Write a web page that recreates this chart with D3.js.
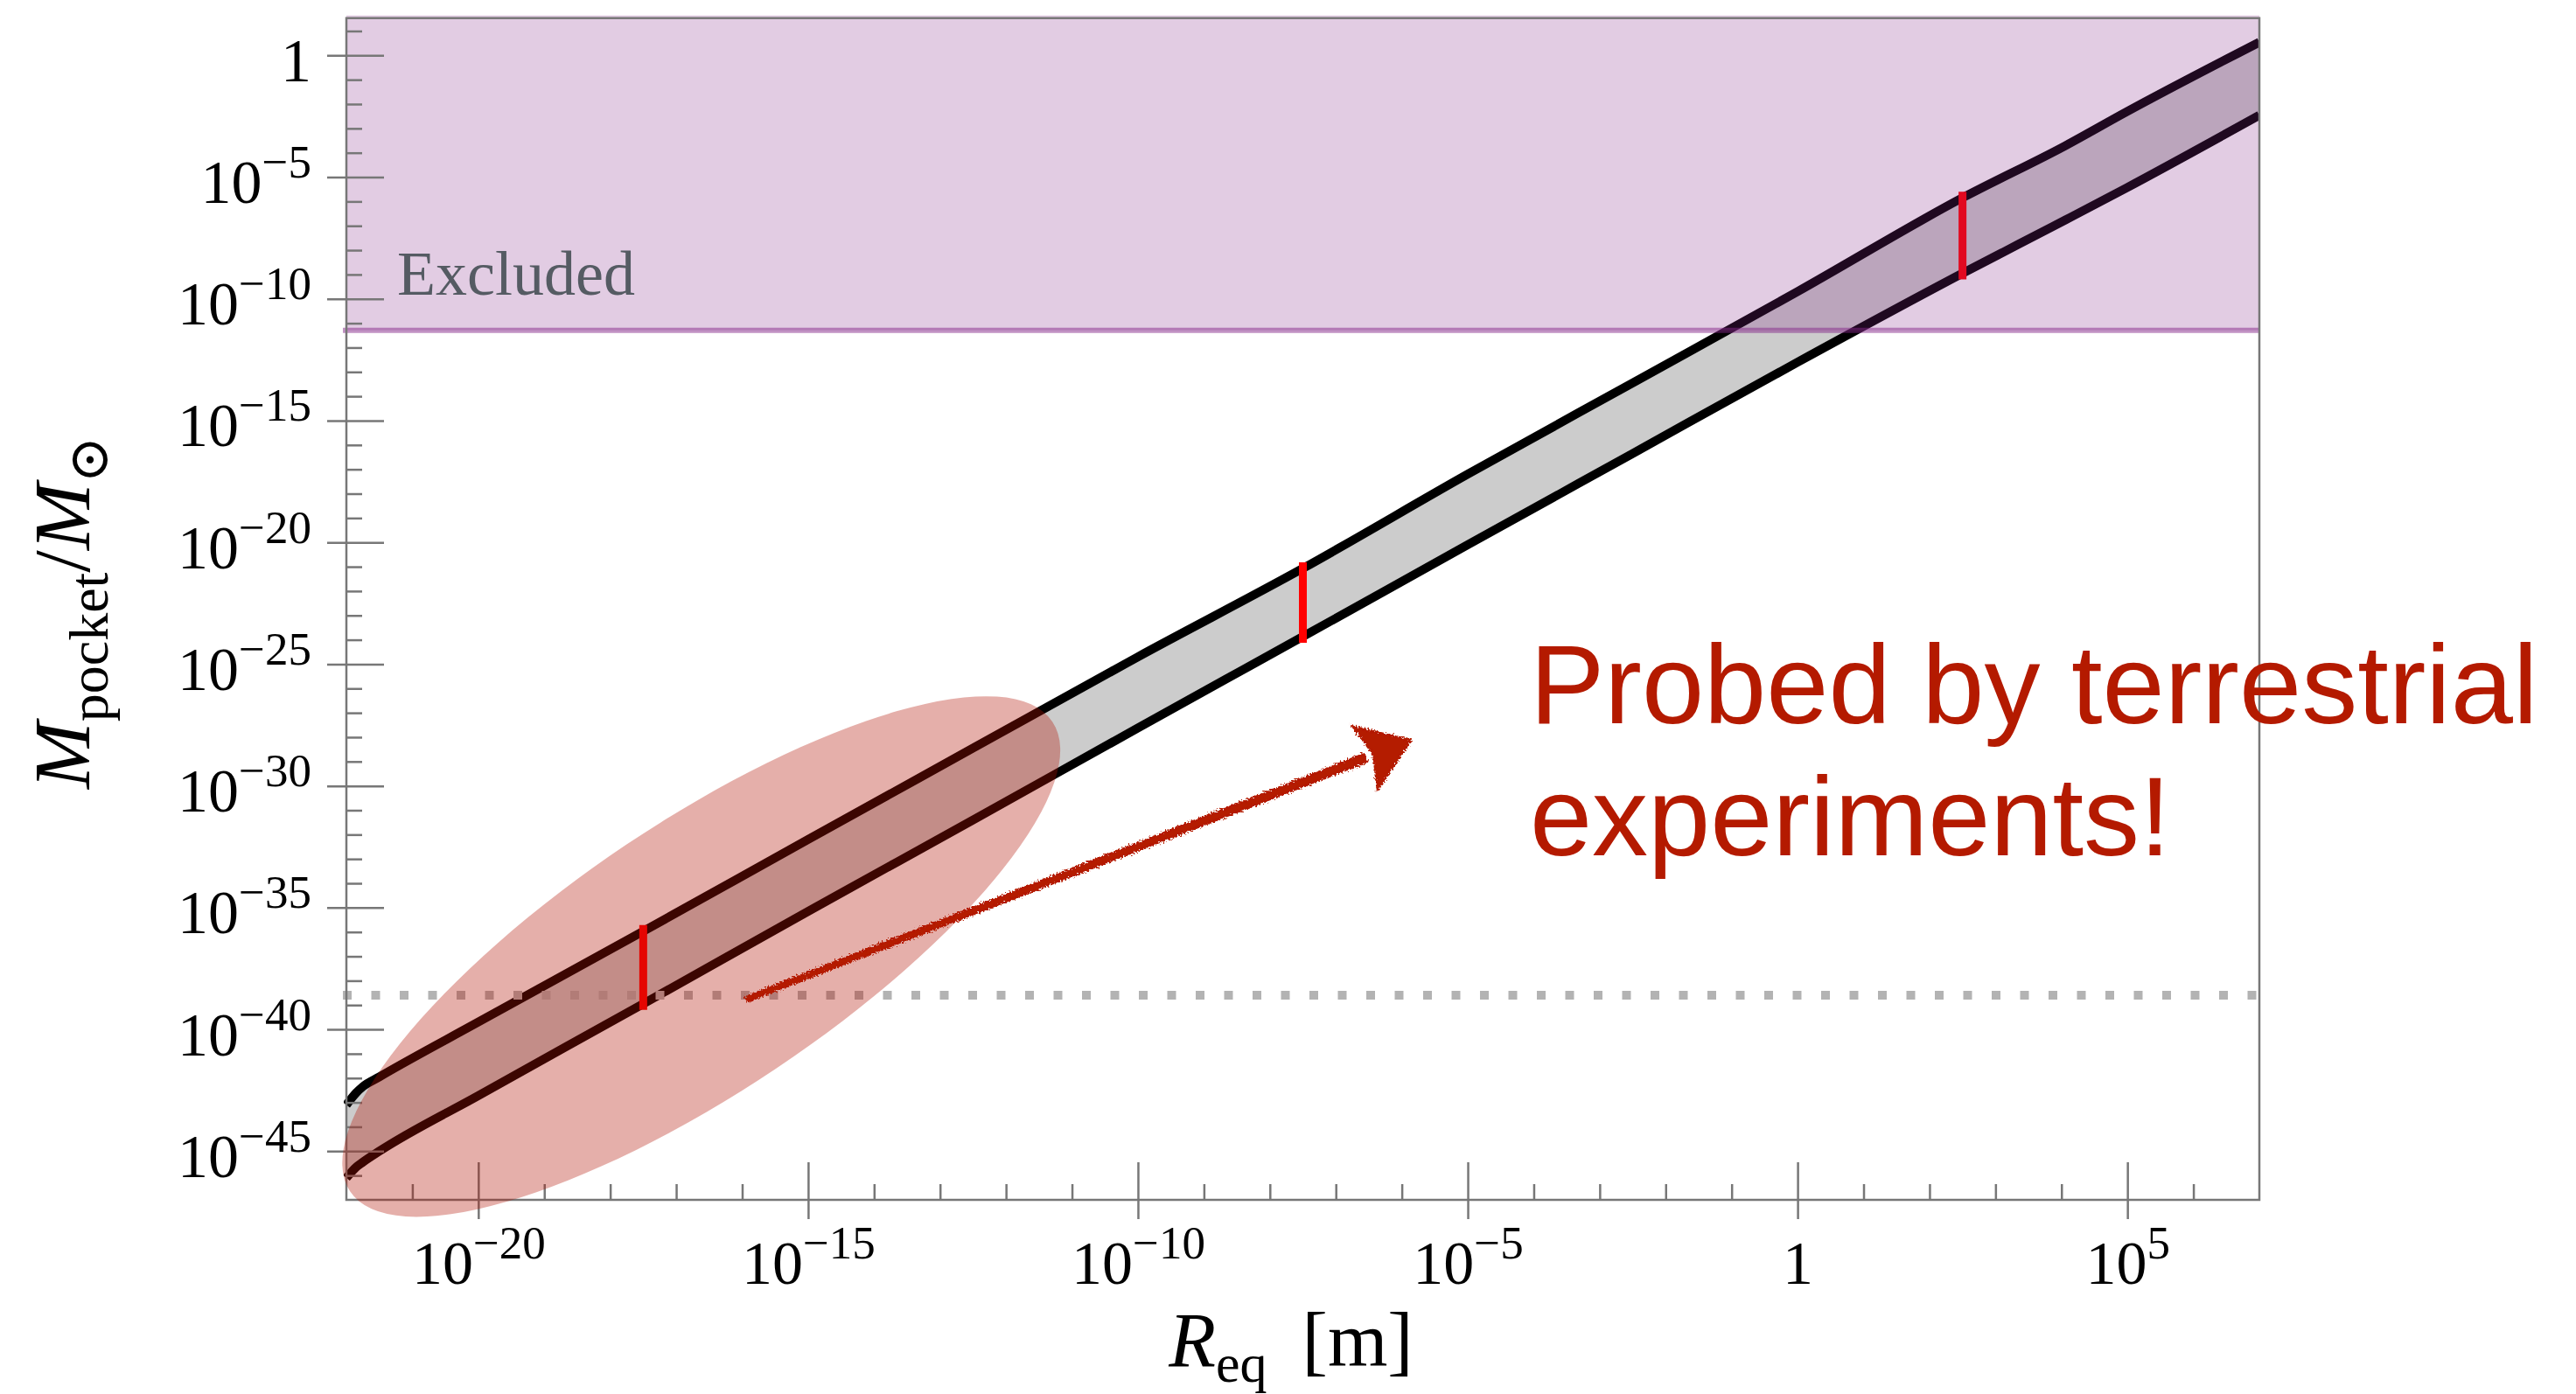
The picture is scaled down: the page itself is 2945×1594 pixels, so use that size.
<!DOCTYPE html>
<html>
<head>
<meta charset="utf-8">
<script src="https://cdn.jsdelivr.net/npm/d3@7"></script>
<style>
body { margin: 0; background: #fff; }
</style>
</head>
<body>
<div id="chart"></div>
<script>
// all values are log10 exponents
var bandR = [-22, -21.85, -21.75, -21.5, -20, -17.5, -15, -12.5, -10, -7.5, -5, -2.5, 0, 2.5, 4.06, 4.98, 7];
var bandUpper = [-43.1, -42.6, -42.35, -41.95, -39.7, -35.97, -32.2, -28.45, -24.7, -21.07, -17.2, -13.45, -9.7, -5.85, -3.71, -2.33, 0.54];
var bandLower = [-46.1, -45.65, -45.45, -45.0, -42.72, -38.95, -35.15, -31.4, -27.62, -23.87, -20.1, -16.35, -12.6, -8.95, -6.76, -5.45, -2.46];

var markR = [-17.5, -7.5, 2.5];
var markTop = [-35.97, -21.07, -5.85];
var markBottom = [-38.95, -23.87, -8.95];

var excludedAbove = -11.29;
var dottedLevel = -38.6;

var xDomain = [-22, 7];
var yDomain = [-47, 1.53];
var xMajor = [-20, -15, -10, -5, 0, 5];
var yMajor = [0, -5, -10, -15, -20, -25, -30, -35, -40, -45];

var probeCenter = [-16.62, -37.01];
var arrowFrom = [-15.94, -38.77];
var arrowTo = [-5.87, -28.13];
var notePos = [-4.06, -27.41];
var noteLines = ["Probed by terrestrial", "experiments!"];
var excludedPos = [-21.23, -9.83];

var W = 2945, H = 1594;
var plot = {left: 396, right: 2583, top: 20.7, bottom: 1372};
var serif = "'Liberation Serif', 'Times New Roman', 'DejaVu Serif', serif";
var sans = "'Liberation Sans', Arial, Helvetica, sans-serif";
var axisGrey = "#777777";
var noteRed = "#b41a00";

function p10(e) { return Math.pow(10, e); }

var x = d3.scaleLog().domain(xDomain.map(p10)).range([plot.left, plot.right]);
var y = d3.scaleLog().domain(yDomain.map(p10)).range([plot.bottom, plot.top]);

var svg = d3.select("#chart").append("svg")
    .attr("width", W)
    .attr("height", H)
    .style("display", "block");

var defs = svg.append("defs");
defs.append("clipPath").attr("id", "plotclip")
    .append("rect")
    .attr("x", plot.left - 3).attr("y", plot.top)
    .attr("width", plot.right - plot.left + 3)
    .attr("height", plot.bottom - plot.top);

var rough = defs.append("filter").attr("id", "rough")
    .attr("x", "-10%").attr("y", "-20%").attr("width", "120%").attr("height", "140%");
rough.append("feTurbulence")
    .attr("type", "fractalNoise")
    .attr("baseFrequency", 0.5)
    .attr("numOctaves", 2)
    .attr("seed", 3)
    .attr("result", "noise");
rough.append("feDisplacementMap")
    .attr("in", "SourceGraphic")
    .attr("in2", "noise")
    .attr("scale", 8)
    .attr("xChannelSelector", "R")
    .attr("yChannelSelector", "G");

// band between the two boundaries
var bandData = bandR.map(function (r, i) {
    return {r: p10(r), hi: p10(bandUpper[i]), lo: p10(bandLower[i])};
});

var inPlot = svg.append("g").attr("clip-path", "url(#plotclip)");

inPlot.append("path")
    .datum(bandData)
    .attr("fill", "#cccccc")
    .attr("d", d3.area()
        .curve(d3.curveMonotoneX)
        .x(function (d) { return x(d.r); })
        .y0(function (d) { return y(d.lo); })
        .y1(function (d) { return y(d.hi); }));

["hi", "lo"].forEach(function (key) {
    inPlot.append("path")
        .datum(bandData)
        .attr("fill", "none")
        .attr("stroke", "#000")
        .attr("stroke-width", 10)
        .attr("stroke-linejoin", "round")
        .attr("d", d3.line()
            .curve(d3.curveMonotoneX)
            .x(function (d) { return x(d.r); })
            .y(function (d) { return y(d[key]); }));
});

// red markers across the band
inPlot.selectAll("line.mark")
    .data(markR.map(function (r, i) { return {r: p10(r), top: p10(markTop[i]), bot: p10(markBottom[i])}; }))
    .enter()
    .append("line")
    .attr("class", "mark")
    .attr("x1", function (d) { return x(d.r); })
    .attr("x2", function (d) { return x(d.r); })
    .attr("y1", function (d) { return y(d.top) - 7; })
    .attr("y2", function (d) { return y(d.bot) + 7; })
    .attr("stroke", "#ff0000")
    .attr("stroke-width", 9);

// dotted level
svg.append("line")
    .attr("x1", x(p10(xDomain[0])) - 4)
    .attr("x2", x(p10(xDomain[1])))
    .attr("y1", y(p10(dottedLevel)))
    .attr("y2", y(p10(dottedLevel)))
    .attr("stroke", "#b3b3b3")
    .attr("stroke-width", 10)
    .attr("stroke-dasharray", "10 22.5");

// excluded region
svg.append("rect")
    .attr("x", plot.left)
    .attr("y", plot.top - 3)
    .attr("width", plot.right - plot.left)
    .attr("height", y(p10(excludedAbove)) - plot.top + 3)
    .attr("fill", "rgb(132,38,136)")
    .attr("fill-opacity", 0.235);

svg.append("line")
    .attr("x1", plot.left - 4)
    .attr("x2", plot.right)
    .attr("y1", y(p10(excludedAbove)))
    .attr("y2", y(p10(excludedAbove)))
    .attr("stroke", "rgb(132,38,136)")
    .attr("stroke-opacity", 0.5)
    .attr("stroke-width", 6);

svg.append("text")
    .attr("x", x(p10(excludedPos[0])))
    .attr("y", y(p10(excludedPos[1])))
    .attr("font-family", serif)
    .attr("font-size", 72)
    .attr("fill", "#555b63")
    .text("Excluded");

// axes
function expLabel(text, d) {
    var e = Math.round(Math.log10(d));
    if (e === 0) {
        text.text("1");
        return;
    }
    text.append("tspan").text("10");
    text.append("tspan")
        .attr("dy", -29)
        .attr("font-size", 53)
        .text(e < 0 ? "\u2212" + (-e) : "" + e);
}

function minorOf(domain, major) {
    return d3.range(Math.ceil(domain[0]) + 1, Math.floor(domain[1]) + 1)
        .filter(function (e) { return major.indexOf(e) < 0 && e < domain[1]; });
}

var gy = svg.append("g")
    .attr("transform", "translate(" + plot.left + ",0)")
    .call(d3.axisLeft(y).tickValues(yMajor.map(p10)).tickFormat(""));
gy.select(".domain").remove();
gy.selectAll(".tick text").remove();
gy.selectAll(".tick line")
    .attr("x1", -22).attr("x2", 43)
    .attr("stroke", axisGrey).attr("stroke-width", 2.5);
gy.selectAll(".tick").append("text")
    .attr("x", -40)
    .attr("y", 29)
    .attr("text-anchor", "end")
    .attr("font-family", serif)
    .attr("font-size", 70)
    .attr("fill", "#000")
    .each(function (d) { expLabel(d3.select(this), d); });

var gyMinor = svg.append("g")
    .attr("transform", "translate(" + plot.left + ",0)")
    .call(d3.axisLeft(y).tickValues(minorOf(yDomain, yMajor).map(p10)).tickFormat(""));
gyMinor.select(".domain").remove();
gyMinor.selectAll(".tick text").remove();
gyMinor.selectAll(".tick line")
    .attr("x1", 0).attr("x2", 18)
    .attr("stroke", axisGrey).attr("stroke-width", 2.5);

var gx = svg.append("g")
    .attr("transform", "translate(0," + plot.bottom + ")")
    .call(d3.axisBottom(x).tickValues(xMajor.map(p10)).tickFormat(""));
gx.select(".domain").remove();
gx.selectAll(".tick text").remove();
gx.selectAll(".tick line")
    .attr("y1", 22).attr("y2", -43)
    .attr("stroke", axisGrey).attr("stroke-width", 2.5);
gx.selectAll(".tick").append("text")
    .attr("y", 96)
    .attr("text-anchor", "middle")
    .attr("font-family", serif)
    .attr("font-size", 70)
    .attr("fill", "#000")
    .each(function (d) { expLabel(d3.select(this), d); });

var gxMinor = svg.append("g")
    .attr("transform", "translate(0," + plot.bottom + ")")
    .call(d3.axisBottom(x).tickValues(minorOf(xDomain, xMajor).map(p10)).tickFormat(""));
gxMinor.select(".domain").remove();
gxMinor.selectAll(".tick text").remove();
gxMinor.selectAll(".tick line")
    .attr("y1", 0).attr("y2", -18)
    .attr("stroke", axisGrey).attr("stroke-width", 2.5);

svg.append("rect")
    .attr("x", plot.left).attr("y", plot.top)
    .attr("width", plot.right - plot.left)
    .attr("height", plot.bottom - plot.top)
    .attr("fill", "none")
    .attr("stroke", axisGrey)
    .attr("stroke-width", 2.5);

// axis titles
var ylab = svg.append("text")
    .attr("transform", "translate(102," + ((plot.top + plot.bottom) / 2 + 4) + ") rotate(-90)")
    .attr("text-anchor", "middle")
    .attr("font-family", serif)
    .attr("font-size", 92)
    .attr("fill", "#000");
ylab.append("tspan").attr("font-style", "italic").text("M");
ylab.append("tspan").attr("font-size", 64).attr("dy", 21).text("pocket");
ylab.append("tspan").attr("dy", -21).text("/");
ylab.append("tspan").attr("font-style", "italic").text("M");
ylab.append("tspan").attr("font-size", 64).attr("dy", 21)
    .attr("font-family", "'DejaVu Serif', serif").text("\u2299");

var xlab = svg.append("text")
    .attr("x", 1476)
    .attr("y", 1562)
    .attr("text-anchor", "middle")
    .attr("font-family", serif)
    .attr("font-size", 88)
    .attr("fill", "#000");
xlab.append("tspan").attr("font-style", "italic").text("R");
xlab.append("tspan").attr("font-size", 62).attr("dy", 18).text("eq");
xlab.append("tspan").attr("dy", -18).attr("dx", 40).text("[m]");

// probed region
var cx = x(p10(probeCenter[0])), cy = y(p10(probeCenter[1]));
svg.append("ellipse")
    .attr("transform", "translate(" + cx + "," + cy + ") rotate(-33.8)")
    .attr("rx", 483)
    .attr("ry", 154)
    .attr("fill", "rgb(178,18,3)")
    .attr("fill-opacity", 0.337);

// hand drawn arrow
var a0 = [x(p10(arrowFrom[0])), y(p10(arrowFrom[1]))];
var a1 = [x(p10(arrowTo[0])), y(p10(arrowTo[1]))];
var dx = a1[0] - a0[0], dy = a1[1] - a0[1];
var len = Math.sqrt(dx * dx + dy * dy);
var ux = dx / len, uy = dy / len;
var headLen = 55, headHalf = 38;
var baseX = a1[0] - ux * headLen, baseY = a1[1] - uy * headLen;

var arrow = svg.append("g").attr("filter", "url(#rough)");
arrow.append("path")
    .attr("d", "M" + (a0[0] - uy * 3) + "," + (a0[1] + ux * 3) +
               "L" + (baseX - uy * 5) + "," + (baseY + ux * 5) +
               "L" + (baseX + uy * 5) + "," + (baseY - ux * 5) +
               "L" + (a0[0] + uy * 3) + "," + (a0[1] - ux * 3) + "Z")
    .attr("fill", noteRed)
    .attr("stroke", noteRed)
    .attr("stroke-width", 2);
arrow.append("path")
    .attr("d", "M" + a1[0] + "," + a1[1] +
               "L" + (baseX - uy * headHalf) + "," + (baseY + ux * headHalf) +
               "L" + (baseX + ux * 10) + "," + (baseY + uy * 10) +
               "L" + (baseX + uy * headHalf) + "," + (baseY - ux * headHalf) + "Z")
    .attr("fill", noteRed)
    .attr("stroke", noteRed)
    .attr("stroke-width", 3);

var note = svg.append("text")
    .attr("x", x(p10(notePos[0])))
    .attr("y", y(p10(notePos[1])))
    .attr("font-family", sans)
    .attr("font-size", 128)
    .attr("fill", noteRed);
note.selectAll("tspan")
    .data(noteLines)
    .enter()
    .append("tspan")
    .attr("x", x(p10(notePos[0])))
    .attr("dy", function (d, i) { return i === 0 ? 0 : 151.7; })
    .text(function (d) { return d; });
</script>
</body>
</html>
